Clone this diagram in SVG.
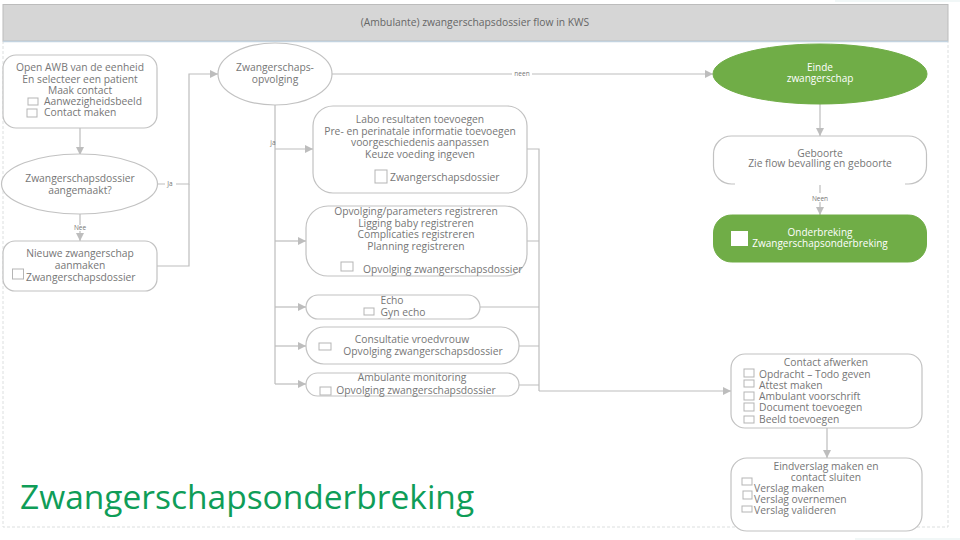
<svg xmlns="http://www.w3.org/2000/svg" width="960" height="540" viewBox="0 0 960 540">
<style>
text{font-family:"Open Sans","Noto Sans",sans-serif;font-size:10.3px;fill:#767676;text-anchor:middle}
.s{font-size:6.5px}
.l{text-anchor:start}
.w{fill:#ffffff;font-weight:500;font-size:10px}
.n{fill:#ffffff;stroke:#c2c2c2;stroke-width:1.2}
.g{fill:#70ad47;stroke:#70ad47}
.c{fill:none;stroke:#bdbdbd;stroke-width:1.2}
.i{fill:#ffffff;stroke:#b5b5b5;stroke-width:1}
.d{fill:none;stroke:#dcdfdf;stroke-width:1;stroke-dasharray:3 2}
</style>
<defs>
<marker id="a" markerUnits="userSpaceOnUse" markerWidth="9" markerHeight="8" refX="8" refY="4" orient="auto"><path d="M0 0L8 4L0 8Z" fill="#bdbdbd"/></marker>
</defs>
<rect width="960" height="540" fill="#ffffff"/>
<g id="frame">
<path class="d" d="M3 41V527H948V41"/>
<path d="M855 539H960" stroke="#e3efef" stroke-width="1" fill="none"/>
<path d="M835 1H960" stroke="#e3efef" stroke-width="1" fill="none"/>
</g>
<g id="header">
<rect x="3" y="4.500" width="945" height="36.500" fill="#d6d6d6" stroke="#bcbcbc"/>
<path d="M3 41.500H948" stroke="#c3d3e0" stroke-width="1.500"/>
<text x="475" y="26" style="fill:#666666">(Ambulante) zwangerschapsdossier flow in KWS</text>
</g>
<g id="connectors">
<path class="c" d="M80 128V155" marker-end="url(#a)"/>
<path class="c" d="M157 184H189V74H218" marker-end="url(#a)"/>
<path class="c" d="M80 214V241" marker-end="url(#a)"/>
<path class="c" d="M157 266H189V184"/>
<path class="c" d="M331 74H713" marker-end="url(#a)"/>
<path class="c" d="M275 105V384"/>
<path class="c" d="M275 149H313" marker-end="url(#a)"/>
<path class="c" d="M275 241H306" marker-end="url(#a)"/>
<path class="c" d="M275 307H306" marker-end="url(#a)"/>
<path class="c" d="M275 346H306" marker-end="url(#a)"/>
<path class="c" d="M275 384H306" marker-end="url(#a)"/>
<path class="c" d="M527 149H539V391"/>
<path class="c" d="M527 241H539M480 307H539M519 346H539M519 385H539"/>
<path class="c" d="M539 391H731" marker-end="url(#a)"/>
<path class="c" d="M820 104V136" marker-end="url(#a)"/>
<path class="c" d="M820 184V215" marker-end="url(#a)"/>
<path class="c" d="M827 428V458" marker-end="url(#a)"/>
<rect x="165" y="180" width="11" height="7" fill="#fff"/>
<text class="s" x="170" y="186">Ja</text>
<rect x="72" y="225" width="16" height="6" fill="#fff"/>
<text class="s" x="80" y="230">Nee</text>
<text class="s" x="273" y="145">ja</text>
<rect x="512" y="71" width="20" height="6" fill="#fff"/>
<text class="s" x="522" y="76">neen</text>
<rect x="810" y="193" width="20" height="9" fill="#fff"/>
<text class="s" x="820" y="201">Neen</text>
</g>
<g id="open-awb">
<rect class="n" x="3" y="55" width="154" height="73" rx="13"/>
<text x="80" y="71">Open AWB van de eenheid</text>
<text x="80" y="83">En selecteer een patient</text>
<text x="80" y="94">Maak contact</text>
<rect class="i" x="28" y="98" width="10" height="7"/>
<text class="l" x="44" y="105">Aanwezigheidsbeeld</text>
<rect class="i" x="27" y="109" width="10" height="8"/>
<text class="l" x="44" y="116">Contact maken</text>
</g>
<g id="dossier-aangemaakt">
<ellipse class="n" cx="79.500" cy="184" rx="78" ry="30"/>
<text x="80" y="182">Zwangerschapsdossier</text>
<text x="80" y="194">aangemaakt?</text>
</g>
<g id="nieuwe-zwangerschap">
<rect class="n" x="3" y="241" width="154" height="50" rx="12"/>
<text x="80" y="257">Nieuwe zwangerschap</text>
<text x="80" y="269">aanmaken</text>
<rect class="i" x="12.500" y="269" width="11" height="10"/>
<text class="l" x="26" y="281">Zwangerschapsdossier</text>
</g>
<g id="opvolging">
<ellipse class="n" cx="275" cy="74" rx="57" ry="31"/>
<text x="275" y="71">Zwangerschaps-</text>
<text x="275" y="83">opvolging</text>
</g>
<g id="labo">
<rect class="n" x="313" y="106" width="214" height="87" rx="20"/>
<text x="420" y="123">Labo resultaten toevoegen</text>
<text x="420" y="135">Pre- en perinatale informatie toevoegen</text>
<text x="420" y="146">voorgeschiedenis aanpassen</text>
<text x="420" y="158">Keuze voeding ingeven</text>
<rect class="i" x="375" y="170" width="12" height="13"/>
<text class="l" x="390" y="181">Zwangerschapsdossier</text>
</g>
<g id="parameters">
<rect class="n" x="306" y="206" width="221" height="70" rx="22"/>
<text x="416" y="215">Opvolging/parameters registreren</text>
<text x="416" y="227">Ligging baby registreren</text>
<text x="416" y="238">Complicaties registreren</text>
<text x="416" y="250">Planning registreren</text>
<rect class="i" x="341" y="262" width="12" height="9"/>
<text class="l" x="363" y="273">Opvolging zwangerschapsdossier</text>
</g>
<g id="echo">
<rect class="n" x="306" y="295" width="174" height="24" rx="12"/>
<text x="392" y="304">Echo</text>
<rect class="i" x="364" y="308" width="10" height="7"/>
<text x="403" y="316">Gyn echo</text>
</g>
<g id="consultatie">
<rect class="n" x="306" y="327" width="213" height="37" rx="18"/>
<text x="412" y="343">Consultatie vroedvrouw</text>
<rect class="i" x="319" y="343" width="12" height="7"/>
<text x="423" y="355">Opvolging zwangerschapsdossier</text>
</g>
<g id="monitoring">
<rect class="n" x="306" y="373" width="213" height="23" rx="11.500"/>
<text x="412" y="381">Ambulante monitoring</text>
<rect class="i" x="320" y="387" width="11" height="8"/>
<text x="416" y="394">Opvolging zwangerschapsdossier</text>
</g>
<g id="einde">
<ellipse class="g" cx="820" cy="74" rx="107" ry="30"/>
<text class="w" x="820" y="71">Einde</text>
<text class="w" x="820" y="82">zwangerschap</text>
</g>
<g id="geboorte">
<rect class="n" x="713.500" y="136" width="213" height="48" rx="18"/>
<path d="M735 184H905" stroke="#ffffff" stroke-width="2"/>
<text x="820" y="157">Geboorte</text>
<text x="820" y="167">Zie flow bevalling en geboorte</text>
</g>
<g id="onderbreking">
<rect class="g" x="713.500" y="215" width="213" height="47" rx="18"/>
<rect x="731" y="231" width="17" height="15" fill="#ffffff"/>
<text class="w" x="820" y="236">Onderbreking</text>
<text class="w" x="820" y="247">Zwangerschapsonderbreking</text>
</g>
<g id="contact-afwerken">
<rect class="n" x="731" y="354" width="191" height="74" rx="14"/>
<text x="826" y="366">Contact afwerken</text>
<rect class="i" x="744" y="369" width="10" height="8"/>
<text class="l" x="759" y="378">Opdracht – Todo geven</text>
<rect class="i" x="744" y="380" width="10" height="7"/>
<text class="l" x="759" y="389">Attest maken</text>
<rect class="i" x="744" y="392" width="10" height="8"/>
<text class="l" x="759" y="400">Ambulant voorschrift</text>
<rect class="i" x="744" y="403" width="10" height="8"/>
<text class="l" x="759" y="411">Document toevoegen</text>
<rect class="i" x="744" y="416" width="10" height="7"/>
<text class="l" x="759" y="423">Beeld toevoegen</text>
</g>
<g id="eindverslag">
<rect class="n" x="731" y="458" width="191" height="73" rx="16"/>
<text x="826" y="470">Eindverslag maken en</text>
<text x="826" y="481">contact sluiten</text>
<text class="l" x="754" y="492">Verslag maken</text>
<rect class="i" x="742" y="478" width="10" height="7"/>
<rect class="i" x="743" y="491" width="9" height="8"/>
<text class="l" x="754" y="503">Verslag overnemen</text>
<rect class="i" x="742" y="506" width="10" height="6"/>
<text class="l" x="754" y="514">Verslag valideren</text>
</g>
<text id="slide-title" x="20" y="509" style="font-size:33.500px;fill:#0f9d58;text-anchor:start">Zwangerschapsonderbreking</text>
</svg>
